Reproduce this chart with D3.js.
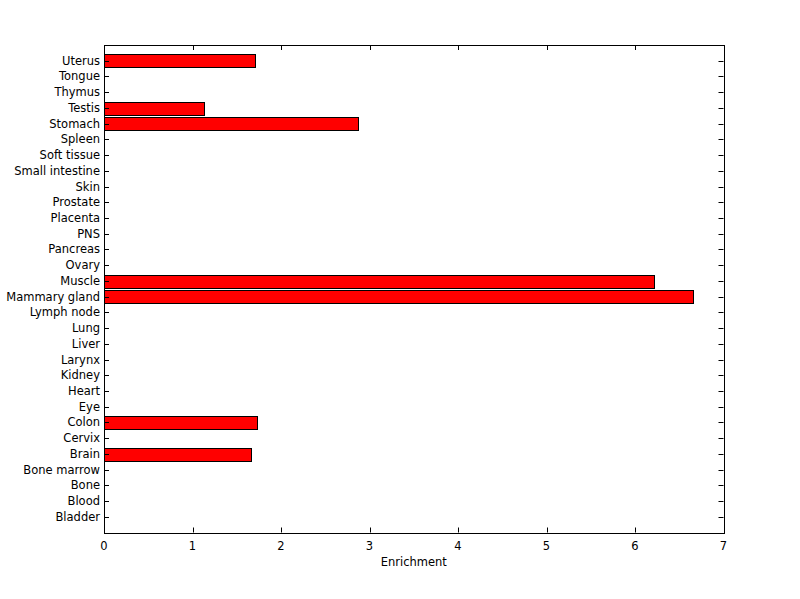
<!DOCTYPE html>
<html>
<head>
<meta charset="utf-8">
<script src="https://cdn.jsdelivr.net/npm/d3@7"></script>
<style>
  body { margin: 0; background: #fff; }
  text { font-family: "DejaVu Sans", "Liberation Sans", Arial, sans-serif; font-size: 11.5px; fill: #000; }
</style>
</head>
<body>
<script>
// tissues, bottom to top as on the chart
var tissues = ["Bladder", "Blood", "Bone", "Bone marrow", "Brain", "Cervix", "Colon", "Eye",
    "Heart", "Kidney", "Larynx", "Liver", "Lung", "Lymph node", "Mammary gland", "Muscle",
    "Ovary", "Pancreas", "PNS", "Placenta", "Prostate", "Skin", "Small intestine",
    "Soft tissue", "Spleen", "Stomach", "Testis", "Thymus", "Tongue", "Uterus"];
var enrichment = [0, 0, 0, 0, 1.66, 0, 1.73, 0,
    0, 0, 0, 0, 0, 0, 6.66, 6.21,
    0, 0, 0, 0, 0, 0, 0,
    0, 0, 2.865, 1.135, 0, 0, 1.71];
var xTicks = [0, 1, 2, 3, 4, 5, 6, 7];

var width = 800, height = 599;
var mLeft = 104, mRight = 723.5, mTop = 45, mBottom = 532.5;

var svg = d3.select("body").append("svg")
    .attr("width", width)
    .attr("height", height);

var x = d3.scaleLinear().domain([0, 7]).range([mLeft, mRight]);
// matlab style ylim [0, n+1], category i sits at i+1
var y = d3.scaleLinear().domain([0, tissues.length + 1]).range([mBottom, mTop]);
var barH = y(0) - y(0.8);

var barIdx = d3.range(tissues.length).filter(function (i) { return enrichment[i] > 0; });

svg.selectAll(".bar")
    .data(barIdx)
    .enter()
    .append("rect")
    .attr("class", "bar")
    .attr("x", x(0) + 0.5)
    .attr("y", function (i) { return Math.round(y(i + 1) - barH / 2) + 0.5; })
    .attr("width", function (i) { return Math.round(x(enrichment[i]) - x(0)); })
    .attr("height", Math.round(barH))
    .attr("fill", "#ff0000")
    .attr("stroke", "#000")
    .attr("stroke-width", 1);

// box
svg.append("rect")
    .attr("x", mLeft + 0.5).attr("y", mTop + 0.5)
    .attr("width", Math.round(mRight - mLeft)).attr("height", Math.round(mBottom - mTop))
    .attr("fill", "none").attr("stroke", "#000").attr("stroke-width", 1);

var tickLen = 5;
var yIdx = d3.range(1, tissues.length + 1);

// y ticks, left and right, pointing inwards
svg.append("g").selectAll("line").data(yIdx).enter().append("line")
    .attr("x1", mLeft).attr("x2", mLeft + tickLen)
    .attr("y1", function (d) { return Math.round(y(d)) + 0.5; })
    .attr("y2", function (d) { return Math.round(y(d)) + 0.5; })
    .attr("stroke", "#000");
svg.append("g").selectAll("line").data(yIdx).enter().append("line")
    .attr("x1", mRight).attr("x2", mRight - tickLen)
    .attr("y1", function (d) { return Math.round(y(d)) + 0.5; })
    .attr("y2", function (d) { return Math.round(y(d)) + 0.5; })
    .attr("stroke", "#000");

svg.append("g").selectAll("text").data(yIdx).enter().append("text")
    .attr("x", mLeft - 4)
    .attr("y", function (d) { return y(d); })
    .attr("dy", "0.35em")
    .attr("text-anchor", "end")
    .text(function (d) { return tissues[d - 1]; });

// x ticks, bottom and top
svg.append("g").selectAll("line").data(xTicks).enter().append("line")
    .attr("x1", function (d) { return Math.round(x(d)) + 0.5; })
    .attr("x2", function (d) { return Math.round(x(d)) + 0.5; })
    .attr("y1", mBottom).attr("y2", mBottom - tickLen)
    .attr("stroke", "#000");
svg.append("g").selectAll("line").data(xTicks).enter().append("line")
    .attr("x1", function (d) { return Math.round(x(d)) + 0.5; })
    .attr("x2", function (d) { return Math.round(x(d)) + 0.5; })
    .attr("y1", mTop).attr("y2", mTop + tickLen)
    .attr("stroke", "#000");

svg.append("g").selectAll("text").data(xTicks).enter().append("text")
    .attr("x", function (d) { return x(d); })
    .attr("y", mBottom + 17)
    .attr("text-anchor", "middle")
    .text(function (d) { return d; });

svg.append("text")
    .attr("x", (mLeft + mRight) / 2)
    .attr("y", 566)
    .attr("text-anchor", "middle")
    .text("Enrichment");
</script>
</body>
</html>
